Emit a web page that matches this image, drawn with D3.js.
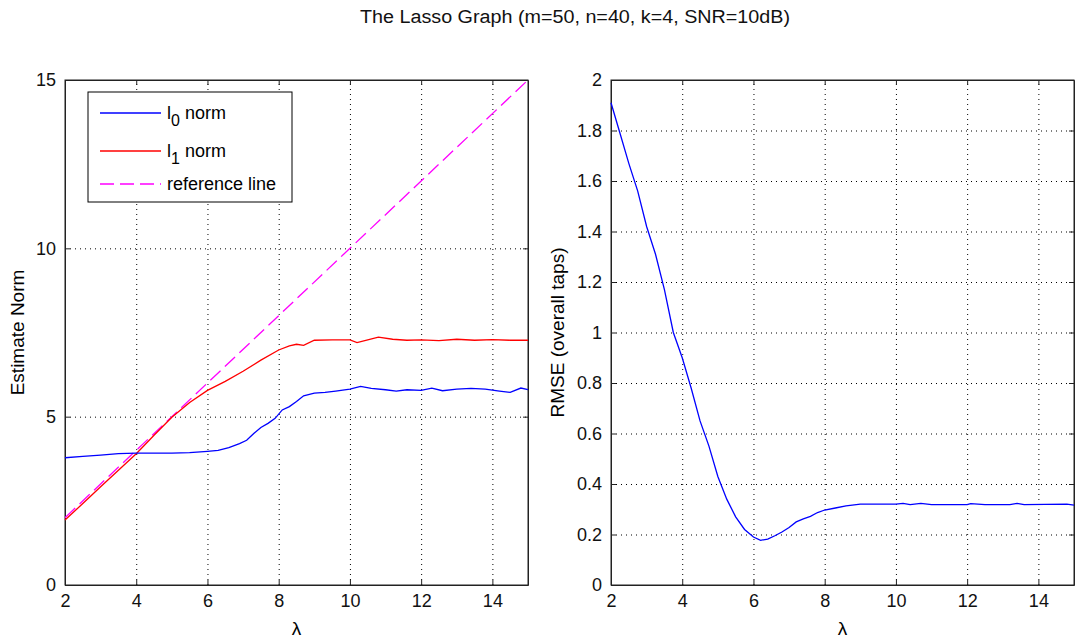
<!DOCTYPE html>
<html>
<head>
<meta charset="utf-8">
<script src="https://cdn.jsdelivr.net/npm/d3@7"></script>
<style>
  body { margin: 0; background: #fff; }
  svg { display: block; font-family: "Liberation Sans", Arial, sans-serif; }
  .grid line { stroke: #000; stroke-dasharray: 1,4; stroke-width: 1; }
  .grid path { display: none; }
  .ax path, .ax line { stroke: #222; }
  .ax text { font-size: 18px; fill: #111; }
</style>
</head>
<body>
<svg id="chart" width="1076" height="641"></svg>
<script>
// ---- data ----
var lambdaL0 = [2, 2.5, 3, 3.5, 4, 4.5, 5, 5.5, 6, 6.3, 6.6, 6.9, 7.1, 7.3, 7.5, 7.7, 7.9, 8.1, 8.3, 8.5, 8.7, 9, 9.3, 9.6, 10, 10.3, 10.6, 11, 11.3, 11.6, 12, 12.3, 12.6, 13, 13.4, 13.8, 14.2, 14.5, 14.8, 15];
var l0Norm   = [3.78, 3.82, 3.86, 3.9, 3.92, 3.92, 3.92, 3.93, 3.97, 4.0, 4.08, 4.2, 4.3, 4.5, 4.68, 4.8, 4.95, 5.2, 5.3, 5.45, 5.62, 5.7, 5.72, 5.76, 5.82, 5.9, 5.84, 5.8, 5.76, 5.8, 5.78, 5.85, 5.77, 5.82, 5.84, 5.82, 5.76, 5.72, 5.85, 5.8];

var lambdaL1 = [2, 2.5, 3, 3.5, 4, 4.5, 5, 5.5, 6, 6.5, 7, 7.5, 8, 8.3, 8.5, 8.7, 9, 9.5, 10, 10.2, 10.5, 10.8, 11.2, 11.6, 12, 12.5, 13, 13.5, 14, 14.5, 15];
var l1Norm   = [1.93, 2.42, 2.92, 3.41, 3.9, 4.45, 4.98, 5.42, 5.78, 6.05, 6.35, 6.68, 6.98, 7.1, 7.15, 7.12, 7.27, 7.28, 7.28, 7.2, 7.28, 7.36, 7.3, 7.27, 7.28, 7.26, 7.3, 7.27, 7.29, 7.27, 7.27];

var lambdaRef = [2, 15];
var refLine   = [2, 15];

var lambdaRmse = [2, 2.25, 2.5, 2.75, 3, 3.25, 3.5, 3.75, 4, 4.25, 4.5, 4.75, 5, 5.25, 5.5, 5.75, 6, 6.2, 6.4, 6.6, 6.8, 7, 7.2, 7.4, 7.6, 7.8, 8, 8.3, 8.6, 9, 9.5, 10, 10.2, 10.4, 10.7, 11, 12, 12.1, 12.5, 13.2, 13.4, 13.6, 14.8, 15];
var rmse       = [1.91, 1.79, 1.67, 1.56, 1.42, 1.31, 1.17, 1.0, 0.9, 0.78, 0.65, 0.55, 0.43, 0.34, 0.27, 0.22, 0.19, 0.177, 0.182, 0.195, 0.21, 0.228, 0.25, 0.262, 0.272, 0.287, 0.297, 0.305, 0.313, 0.32, 0.32, 0.32, 0.323, 0.318, 0.323, 0.318, 0.318, 0.322, 0.318, 0.318, 0.323, 0.318, 0.32, 0.316];

var xTicks = [2, 4, 6, 8, 10, 12, 14];
var yTicksLeft = [0, 5, 10, 15];
var yTicksRight = [0, 0.2, 0.4, 0.6, 0.8, 1, 1.2, 1.4, 1.6, 1.8, 2];

var title = "The Lasso Graph (m=50, n=40, k=4, SNR=10dB)";

var svg = d3.select("#chart");

svg.append("text")
    .attr("x", 360).attr("y", 23)
    .attr("textLength", 430)
    .attr("lengthAdjust", "spacingAndGlyphs")
    .style("font-size", "18px")
    .style("fill", "#111")
    .text(title);

// one MATLAB-like axes panel
function panel(left, yMax, yTicks, yLabel, labelX, yFmt) {
  var w = 463, h = 505, top = 80;
  var g = svg.append("g").attr("transform", "translate(" + left + "," + top + ")");
  var x = d3.scaleLinear().domain([2, 15]).range([0, w]);
  var y = d3.scaleLinear().domain([0, yMax]).range([h, 0]);

  g.append("g").attr("class", "grid")
      .attr("transform", "translate(0," + h + ")")
      .call(d3.axisBottom(x).tickValues(xTicks).tickSize(-h).tickFormat(""));
  g.append("g").attr("class", "grid")
      .call(d3.axisLeft(y).tickValues(yTicks).tickSize(-w).tickFormat(""));

  g.append("g").attr("class", "ax")
      .attr("transform", "translate(0," + h + ")")
      .call(d3.axisBottom(x).tickValues(xTicks).tickSizeInner(-5).tickSizeOuter(0).tickPadding(9));
  g.append("g").attr("class", "ax")
      .call(d3.axisTop(x).tickValues(xTicks).tickSizeInner(-5).tickSizeOuter(0).tickFormat(""));
  g.append("g").attr("class", "ax")
      .call(d3.axisLeft(y).tickValues(yTicks).tickSizeInner(-5).tickSizeOuter(0).tickPadding(9).tickFormat(yFmt));
  g.append("g").attr("class", "ax")
      .attr("transform", "translate(" + w + ",0)")
      .call(d3.axisRight(y).tickValues(yTicks).tickSizeInner(-5).tickSizeOuter(0).tickFormat(""));

  g.append("rect").attr("width", w).attr("height", h)
      .attr("fill", "none").attr("stroke", "#222");

  g.append("text")
      .attr("x", w / 2).attr("y", h + 50)
      .attr("text-anchor", "middle")
      .style("font-size", "19px")
      .text("λ");

  g.append("text")
      .attr("transform", "translate(" + (labelX - left) + "," + (h / 2) + ") rotate(-90)")
      .attr("text-anchor", "middle")
      .style("font-size", "19px")
      .text(yLabel);

  return {g: g, x: x, y: y};
}

function drawLine(p, xs, ys, color, dash) {
  var line = d3.line()
      .x(function(d, i) { return p.x(xs[i]); })
      .y(function(d) { return p.y(d); });
  p.g.append("path")
      .datum(ys)
      .attr("d", line)
      .attr("fill", "none")
      .attr("stroke", color)
      .attr("stroke-width", 1.3)
      .attr("stroke-dasharray", dash || null);
}

var pl = panel(65, 15, yTicksLeft, "Estimate Norm", 24, d3.format("d"));
drawLine(pl, lambdaRef, refLine, "#ff00ff", "14,6");
drawLine(pl, lambdaL1, l1Norm, "#ff0000");
drawLine(pl, lambdaL0, l0Norm, "#0000ff");

var pr = panel(611, 2, yTicksRight, "RMSE (overall taps)", 564, function(d) { return d3.format("")(d); });
drawLine(pr, lambdaRmse, rmse, "#0000ff");

// legend
var leg = svg.append("g").attr("transform", "translate(88,92)");
leg.append("rect").attr("width", 204).attr("height", 110)
    .attr("fill", "#fff").attr("stroke", "#000");
var items = [
  {c: "#0000ff", d: null, t: "l", s: "0", r: " norm"},
  {c: "#ff0000", d: null, t: "l", s: "1", r: " norm"},
  {c: "#ff00ff", d: "14,6", t: "reference line", s: null, r: ""}
];
items.forEach(function(it, i) {
  var yy = [21, 59, 92][i];
  leg.append("line")
      .attr("x1", 12).attr("x2", 73).attr("y1", yy).attr("y2", yy)
      .attr("stroke", it.c).attr("stroke-width", 1.3)
      .attr("stroke-dasharray", it.d);
  var t = leg.append("text").attr("x", 79).attr("y", yy + 6).style("font-size", "18px");
  t.append("tspan").text(it.t);
  if (it.s) {
    t.append("tspan").attr("dy", 7).style("font-size", "16px").text(it.s);
    t.append("tspan").attr("dy", -7).text(it.r);
  }
});
</script>
</body>
</html>
